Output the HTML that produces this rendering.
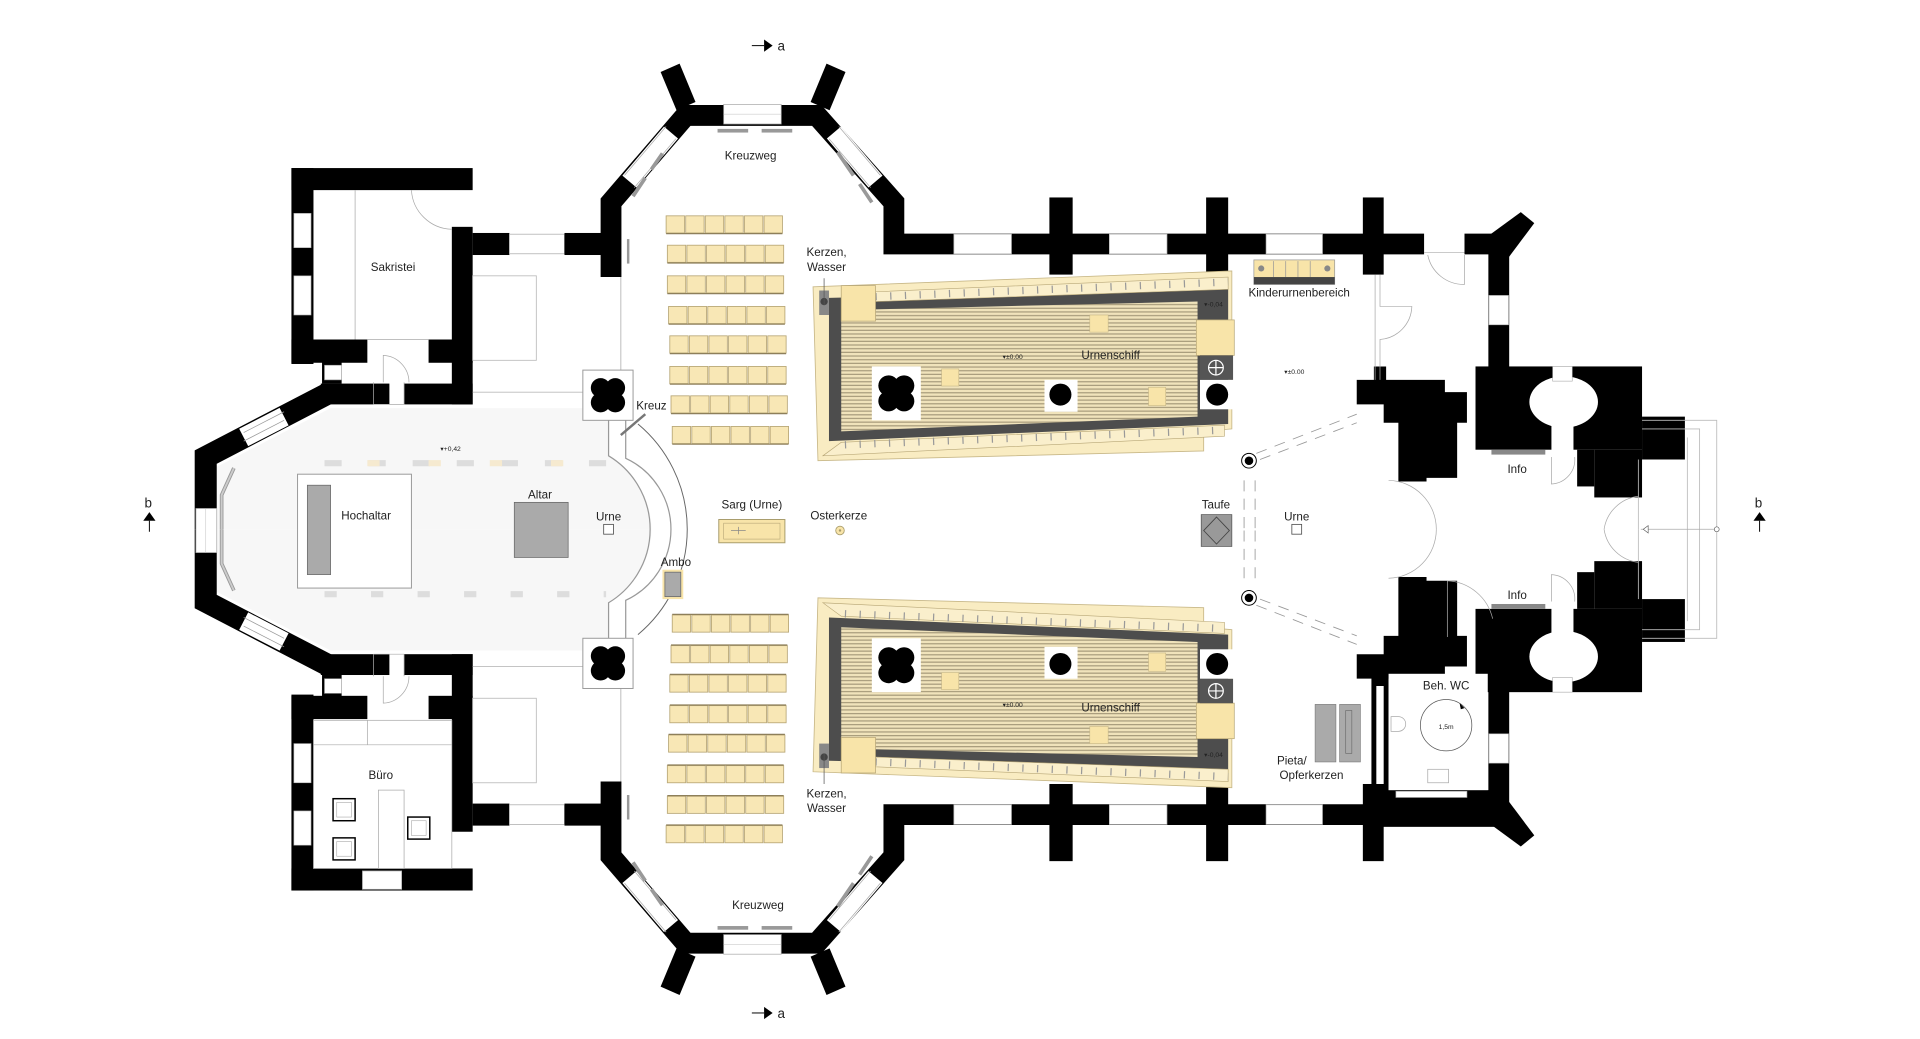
<!DOCTYPE html>
<html><head><meta charset="utf-8"><style>
html,body{margin:0;padding:0;background:#fff;}
svg{display:block}
text{font-family:"Liberation Sans",sans-serif;fill:#222;}
</style></head><body>
<svg width="1920" height="1039" viewBox="0 0 1568 848" xmlns="http://www.w3.org/2000/svg">
<defs>
<pattern id="hatch" width="6" height="3" patternUnits="userSpaceOnUse">
<rect width="6" height="3" fill="#f0e3bb"/><rect y="2" width="6" height="1" fill="#a89c7c"/>
</pattern>
<g id="seatrow">
<rect x="0" y="0" width="15" height="14" fill="#f8e7b5" stroke="#b8a777" stroke-width="0.7"/>
<rect x="16" y="0" width="15" height="14" fill="#f8e7b5" stroke="#b8a777" stroke-width="0.7"/>
<rect x="32" y="0" width="15" height="14" fill="#f8e7b5" stroke="#b8a777" stroke-width="0.7"/>
<rect x="48" y="0" width="15" height="14" fill="#f8e7b5" stroke="#b8a777" stroke-width="0.7"/>
<rect x="64" y="0" width="15" height="14" fill="#f8e7b5" stroke="#b8a777" stroke-width="0.7"/>
<rect x="80" y="0" width="15" height="14" fill="#f8e7b5" stroke="#b8a777" stroke-width="0.7"/>
<line x1="0" y1="14.5" x2="95" y2="14.5" stroke="#8d7f5a" stroke-width="1"/>
</g>
<g id="quat">
<circle cx="-6" cy="-6" r="8"/><circle cx="6" cy="-6" r="8"/><circle cx="-6" cy="6" r="8"/><circle cx="6" cy="6" r="8"/><circle r="8"/>
</g>
<g id="h">
<path d="M177,432 L177,381 L270,333 L476,333 L476,343 L497,343 L497,372 A70 70 0 0 1 532,432 Z" fill="#f7f7f7"/>
<polyline points="268,321 168,373 168,432" fill="none" stroke="#000" stroke-width="18" stroke-linejoin="miter"/>
<line x1="199" y1="357" x2="232" y2="340" stroke="#fff" stroke-width="16"/>
<line x1="199" y1="353" x2="232" y2="336" stroke="#999" stroke-width="0.6"/>
<line x1="199" y1="360" x2="232" y2="343" stroke="#999" stroke-width="0.6"/>
<polyline points="191,382 181,404 181,432" fill="none" stroke="#999" stroke-width="3"/>
<polyline points="191,382 181,404 181,432" fill="none" stroke="#ccc" stroke-width="1.5"/>
<rect x="262" y="313" width="56" height="17" fill="#000"/>
<rect x="330" y="313" width="56" height="17" fill="#000"/>
<rect x="263" y="295" width="16" height="18" fill="#000"/>
<rect x="265" y="298" width="14" height="12" fill="#fff" stroke="#999" stroke-width="0.5"/>
<path d="M305,330 L305,312 M330,312 L330,330 M305,330 L330,330" fill="none" stroke="#aaa" stroke-width="0.6"/>
<path d="M313,312 L313,290 A22 22 0 0 1 334,312" fill="none" stroke="#aaa" stroke-width="0.6"/>
<rect x="238" y="137" width="148" height="18" fill="#000"/>
<rect x="238" y="137" width="18" height="160" fill="#000"/>
<rect x="369" y="185" width="17" height="145" fill="#000"/>
<rect x="238" y="277" width="62" height="19" fill="#000"/>
<rect x="350" y="277" width="36" height="19" fill="#000"/>
<rect x="240" y="174" width="14" height="28" fill="#fff" stroke="#aaa" stroke-width="0.5"/>
<rect x="240" y="225" width="14" height="32" fill="#fff" stroke="#aaa" stroke-width="0.5"/>
<rect x="386" y="190" width="30" height="18" fill="#000"/>
<rect x="416" y="191" width="45" height="16" fill="#fff" stroke="#aaa" stroke-width="0.6"/>
<rect x="461" y="190" width="46" height="18" fill="#000"/>
<rect x="386" y="225" width="52" height="69" fill="none" stroke="#bbb" stroke-width="0.7"/>
<line x1="386" y1="320" x2="476" y2="320" stroke="#bbb" stroke-width="0.7"/>
<line x1="507" y1="226" x2="507" y2="302" stroke="#bbb" stroke-width="0.8"/>
<polyline points="499,226 499,165 560,94 667,94 730,165 730,199 1224,199" fill="none" stroke="#000" stroke-width="17" stroke-linejoin="miter"/>
<line x1="1224" y1="191" x2="1224" y2="300" stroke="#000" stroke-width="17"/>
<polygon points="539.5,58.5 555,51.7 568,83 552.5,89.8" fill="#000"/>
<polygon points="690.5,58.5 675,51.7 662,83 677.5,89.8" fill="#000"/>
<rect x="591" y="85" width="47" height="16" fill="#fff" stroke="#aaa" stroke-width="0.6"/>
<line x1="591" y1="93" x2="638" y2="93" stroke="#ccc" stroke-width="0.5"/>
<line x1="548" y1="108" x2="514" y2="148" stroke="#fff" stroke-width="15"/>
<line x1="552" y1="113" x2="518" y2="153" stroke="#aaa" stroke-width="0.6"/>
<line x1="544" y1="103" x2="510" y2="143" stroke="#aaa" stroke-width="0.6"/>
<line x1="681" y1="108" x2="715" y2="148" stroke="#fff" stroke-width="15"/>
<line x1="677" y1="113" x2="711" y2="153" stroke="#aaa" stroke-width="0.6"/>
<line x1="685" y1="103" x2="719" y2="143" stroke="#aaa" stroke-width="0.6"/>
<rect x="586" y="105" width="25" height="3" fill="#999"/>
<rect x="622" y="105" width="25" height="3" fill="#999"/>
<line x1="541" y1="125" x2="532" y2="138" stroke="#999" stroke-width="3"/>
<line x1="527" y1="145" x2="517" y2="160" stroke="#999" stroke-width="3"/>
<line x1="684" y1="124" x2="697" y2="143" stroke="#999" stroke-width="3"/>
<line x1="702" y1="150" x2="712" y2="165" stroke="#999" stroke-width="3"/>
<rect x="512" y="195" width="2" height="20" fill="#999"/>
<rect x="857" y="161" width="19" height="63" fill="#000"/>
<rect x="985" y="161" width="18" height="63" fill="#000"/>
<rect x="1113" y="161" width="17" height="63" fill="#000"/>
<rect x="779" y="191" width="47" height="16" fill="#fff" stroke="#bbb" stroke-width="0.6"/>
<rect x="906" y="191" width="47" height="16" fill="#fff" stroke="#bbb" stroke-width="0.6"/>
<rect x="1034" y="191" width="46" height="16" fill="#fff" stroke="#bbb" stroke-width="0.6"/>
<polygon points="1216,192 1242,173 1253,182 1232,210" fill="#000"/>
<rect x="1216" y="241" width="16" height="24" fill="#fff" stroke="#aaa" stroke-width="0.5"/>
<rect x="476" y="302" width="41" height="41" fill="#fff" stroke="#999" stroke-width="0.8"/>
<use href="#quat" transform="translate(496.5,322.5)"/>
<use href="#seatrow" x="544" y="176"/>
<use href="#seatrow" x="545" y="200"/>
<use href="#seatrow" x="545" y="225"/>
<use href="#seatrow" x="546" y="250"/>
<use href="#seatrow" x="547" y="274"/>
<use href="#seatrow" x="547" y="299"/>
<use href="#seatrow" x="548" y="323"/>
<use href="#seatrow" x="549" y="348"/>
<polygon points="664,234 1006,221 1006,350 983,352 983,368 668,376" fill="#f9ecc2" stroke="#c8b888" stroke-width="0.7"/>
<polygon points="677,243 1003,235 1003,346 677,360" fill="#4d4d4d"/>
<polygon points="687,253 978,246 978,340 687,352" fill="url(#hatch)"/>
<polygon points="715,238 1003,226 1003,236 715,246" fill="#faefcc" stroke="#b8a777" stroke-width="0.5"/>
<line x1="715" y1="242" x2="1003" y2="230" stroke="#999" stroke-width="6" stroke-dasharray="1 11"/>
<polygon points="687,361 1000,347 1000,356 672,372" fill="#faefcc" stroke="#b8a777" stroke-width="0.5"/>
<line x1="690" y1="363" x2="1000" y2="351" stroke="#999" stroke-width="6" stroke-dasharray="1 11"/>
<rect x="687" y="233" width="28" height="29" fill="#f8e4a9" stroke="#b8a777" stroke-width="0.6"/>
<rect x="669" y="237" width="8" height="20" fill="#888"/>
<circle cx="673" cy="246" r="3" fill="#444"/>
<rect x="977" y="261" width="31" height="29" fill="#f8e4a9" stroke="#b8a777" stroke-width="0.6"/>
<rect x="980" y="290" width="27" height="20" fill="#555"/>
<circle cx="993" cy="300" r="6" fill="none" stroke="#fff" stroke-width="1"/>
<path d="M987,300 H999 M993,294 V306" stroke="#fff" stroke-width="1"/>
<rect x="980" y="310" width="27" height="24" fill="#fff"/>
<circle cx="994" cy="322" r="9" fill="#000"/>
<rect x="712" y="299" width="40" height="44" fill="#fff"/>
<use href="#quat" transform="translate(732,321) scale(1.05)"/>
<rect x="853" y="310" width="27" height="26" fill="#fff"/>
<circle cx="866" cy="322" r="9" fill="#000"/>
<rect x="890" y="257" width="15" height="14" fill="#f8e4a9" stroke="#c8b888" stroke-width="0.5"/>
<rect x="769" y="301" width="14" height="14" fill="#f8e4a9" stroke="#c8b888" stroke-width="0.5"/>
<rect x="938" y="316" width="14" height="15" fill="#f8e4a9" stroke="#c8b888" stroke-width="0.5"/>
<circle cx="1020" cy="376" r="6" fill="#fff" stroke="#000" stroke-width="0.8"/>
<circle cx="1020" cy="376" r="3.5" fill="#000"/>
<line x1="1026" y1="370" x2="1108" y2="338" stroke="#999" stroke-width="0.7" stroke-dasharray="9 7"/>
<line x1="1029" y1="375" x2="1108" y2="345" stroke="#999" stroke-width="0.7" stroke-dasharray="9 7"/>
<line x1="1016" y1="392" x2="1016" y2="432" stroke="#999" stroke-width="0.7" stroke-dasharray="9 6"/>
<line x1="1025" y1="392" x2="1025" y2="432" stroke="#999" stroke-width="0.7" stroke-dasharray="9 6"/>
<polygon points="1108,310 1122,310 1122,299 1132,299 1132,310 1180,310 1180,320 1198,320 1198,345 1190,345 1190,390 1165,390 1165,393 1142,393 1142,345 1130,345 1130,330 1108,330" fill="#000"/>
<rect x="1205" y="299" width="136" height="68" fill="#000"/>
<rect x="1302" y="367" width="39" height="39" fill="#000"/>
<rect x="1288" y="367" width="14" height="30" fill="#000"/>
<rect x="1341" y="340" width="35" height="35" fill="#000"/>
<ellipse cx="1277" cy="328" rx="28" ry="21" fill="#fff"/>
<rect x="1268" y="299" width="16" height="12" fill="#fff" stroke="#aaa" stroke-width="0.5"/>
<rect x="1267" y="345" width="18" height="28" fill="#fff"/>
<rect x="1218" y="367" width="44" height="4" fill="#888"/>
<path d="M1267,373 L1267,395 A20 20 0 0 0 1286,373" fill="none" stroke="#aaa" stroke-width="0.6"/>
<path d="M1134,392 A40 40 0 0 1 1173,432" fill="none" stroke="#aaa" stroke-width="0.6"/>
<path d="M1338,405 A32 32 0 0 0 1310,432" fill="none" stroke="#aaa" stroke-width="0.6"/>
<polyline points="1341,343 1402,343 1402,432" fill="none" stroke="#bbb" stroke-width="0.7"/>
<polyline points="1341,350 1388,350 1388,432" fill="none" stroke="#bbb" stroke-width="0.7"/>
<polyline points="1378,357 1378,432" fill="none" stroke="#bbb" stroke-width="0.7"/>
<line x1="1338" y1="375" x2="1338" y2="432" stroke="#bbb" stroke-width="0.7"/>
</g>
</defs>

<use href="#h"/>
<use href="#h" transform="matrix(1 0 0 -1 0 864)"/>

<line x1="290" y1="155" x2="290" y2="277" stroke="#aaa" stroke-width="0.6"/>
<line x1="300" y1="277" x2="350" y2="277" stroke="#aaa" stroke-width="0.6"/>
<path d="M336,155 A34 34 0 0 0 369,187" fill="none" stroke="#aaa" stroke-width="0.6"/>
<rect x="256" y="588" width="113" height="121" fill="none" stroke="#aaa" stroke-width="0.6"/>
<line x1="256" y1="608" x2="369" y2="608" stroke="#aaa" stroke-width="0.6"/>
<line x1="300" y1="588" x2="300" y2="608" stroke="#aaa" stroke-width="0.6"/>
<rect x="309" y="645" width="21" height="64" fill="#fff" stroke="#aaa" stroke-width="0.6"/>
<rect x="272" y="652" width="18" height="18" fill="#fff" stroke="#000" stroke-width="1.2"/>
<rect x="275" y="655" width="12" height="12" fill="none" stroke="#aaa" stroke-width="0.5"/>
<rect x="272" y="684" width="18" height="18" fill="#fff" stroke="#000" stroke-width="1.2"/>
<rect x="275" y="687" width="12" height="12" fill="none" stroke="#aaa" stroke-width="0.5"/>
<rect x="333" y="667" width="18" height="18" fill="#fff" stroke="#000" stroke-width="1.2"/>
<rect x="336" y="670" width="12" height="12" fill="none" stroke="#aaa" stroke-width="0.5"/>
<rect x="296" y="711" width="32" height="15" fill="#fff" stroke="#aaa" stroke-width="0.6"/>

<rect x="160" y="415" width="17" height="36" fill="#fff" stroke="#aaa" stroke-width="0.6"/>
<line x1="168" y1="415" x2="168" y2="451" stroke="#ccc" stroke-width="0.5"/>
<rect x="1163" y="190" width="33" height="18" fill="#fff"/>
<line x1="1163" y1="206" x2="1196" y2="206" stroke="#aaa" stroke-width="0.6"/>
<path d="M1196,208 L1196,232 A30 30 0 0 1 1166,208" fill="none" stroke="#aaa" stroke-width="0.6"/>
<path d="M1123,224 V310 M1127,224 V250 H1153 A28 28 0 0 1 1127,277 V310" fill="none" stroke="#aaa" stroke-width="0.6"/>
<rect x="1120" y="548" width="14" height="125" fill="#000"/>
<rect x="1120" y="645" width="112" height="30" fill="#000"/>
<rect x="1134" y="550" width="81" height="95" fill="#fff"/>
<rect x="1140" y="646" width="58" height="5" fill="#fff" stroke="#aaa" stroke-width="0.5"/>
<line x1="1127" y1="560" x2="1127" y2="640" stroke="#fff" stroke-width="6"/>
<path d="M1136,585 h6 a5 5 0 0 1 0 12 h-6 z" fill="#fff" stroke="#aaa" stroke-width="0.6"/>
<rect x="1166" y="628" width="17" height="11" fill="#fff" stroke="#aaa" stroke-width="0.6"/>
<circle cx="1181" cy="592" r="21" fill="none" stroke="#555" stroke-width="0.6"/>
<polygon points="1192,574 1196,578 1193,579" fill="#000"/>
<path d="M1182,520 L1182,474 A40 40 0 0 1 1219,505" fill="none" stroke="#aaa" stroke-width="0.6"/>

<line x1="265" y1="378" x2="495" y2="378" stroke="#ddd" stroke-width="5" stroke-dasharray="14 22"/>
<line x1="265" y1="485" x2="495" y2="485" stroke="#ddd" stroke-width="5" stroke-dasharray="10 28"/>
<line x1="300" y1="378" x2="480" y2="378" stroke="#f6ead0" stroke-width="5" stroke-dasharray="10 40"/>
<path d="M497,343 L497,372 A70 70 0 0 1 497,492 L497,521" fill="none" stroke="#999" stroke-width="1"/>
<path d="M511,343 L511,374 A64 64 0 0 1 511,490 L511,521" fill="none" stroke="#999" stroke-width="1"/>
<path d="M521,346 A112 112 0 0 1 521,518" fill="none" stroke="#666" stroke-width="0.8"/>
<line x1="507" y1="355" x2="527" y2="338" stroke="#777" stroke-width="2"/>
<rect x="243" y="387" width="93" height="93" fill="#fff" stroke="#999" stroke-width="0.8"/>
<rect x="251" y="396" width="19" height="73" fill="#aaa" stroke="#666" stroke-width="0.6"/>
<rect x="420" y="410" width="44" height="45" fill="#aaa" stroke="#666" stroke-width="0.6"/>
<rect x="493" y="428" width="8" height="8" fill="#fff" stroke="#555" stroke-width="0.7"/>
<rect x="587" y="424" width="54" height="19" fill="#f8e4a9" stroke="#a89c6c" stroke-width="0.8"/>
<rect x="591" y="427" width="46" height="13" fill="none" stroke="#b8a777" stroke-width="0.5"/>
<path d="M597,433 H609 M603,430 V436" stroke="#888" stroke-width="0.6"/>
<circle cx="686" cy="433" r="3.5" fill="#f8e4a9" stroke="#a89c6c" stroke-width="0.7"/>
<circle cx="686" cy="433" r="1" fill="#a89c6c"/>
<rect x="541" y="465" width="17" height="24" fill="#f8e4a9"/>
<rect x="543" y="467" width="13" height="20" fill="#aaa" stroke="#666" stroke-width="0.6"/>
<rect x="981" y="420" width="25" height="26" fill="#999" stroke="#555" stroke-width="0.6"/>
<polygon points="993.5,422 1004,433 993.5,444 983,433" fill="none" stroke="#444" stroke-width="0.7"/>
<rect x="1055" y="428" width="8" height="8" fill="#fff" stroke="#555" stroke-width="0.7"/>
<rect x="1074" y="575" width="17" height="47" fill="#aaa" stroke="#777" stroke-width="0.5"/>
<rect x="1094" y="575" width="17" height="47" fill="#aaa" stroke="#777" stroke-width="0.5"/>
<rect x="1099" y="580" width="5" height="35" fill="none" stroke="#666" stroke-width="0.5"/>
<rect x="1024" y="212" width="66" height="20" fill="#f8e4a9" stroke="#999" stroke-width="0.6"/>
<rect x="1024" y="226" width="66" height="6" fill="#444"/>
<circle cx="1030" cy="219" r="2.5" fill="#888"/><circle cx="1084" cy="219" r="2.5" fill="#888"/>
<path d="M1040,213 V226 M1050,213 V226 M1060,213 V226 M1070,213 V226" stroke="#999" stroke-width="0.6"/>
<line x1="673" y1="249" x2="673" y2="227" stroke="#555" stroke-width="0.6"/>
<line x1="673" y1="615" x2="673" y2="640" stroke="#555" stroke-width="0.6"/>
<line x1="1340" y1="432" x2="1402" y2="432" stroke="#aaa" stroke-width="0.6"/>
<polygon points="1342,432 1346,429 1346,435" fill="#fff" stroke="#555" stroke-width="0.5"/>
<circle cx="1402" cy="432" r="2" fill="#fff" stroke="#555" stroke-width="0.5"/>

<line x1="614" y1="37" x2="624" y2="37" stroke="#000" stroke-width="0.8"/><polygon points="624,32 631,37 624,42" fill="#000"/>
<text x="635" y="41" font-size="11">a</text>
<line x1="614" y1="827" x2="624" y2="827" stroke="#000" stroke-width="0.8"/><polygon points="624,822 631,827 624,832" fill="#000"/>
<text x="635" y="831" font-size="11">a</text>
<text x="118" y="414" font-size="11">b</text><polygon points="122,418 117,425 127,425" fill="#000"/><line x1="122" y1="425" x2="122" y2="434" stroke="#000" stroke-width="0.8"/>
<text x="1433" y="414" font-size="11">b</text><polygon points="1437,418 1432,425 1442,425" fill="#000"/><line x1="1437" y1="425" x2="1437" y2="434" stroke="#000" stroke-width="0.8"/>

<g font-size="9.5" text-anchor="middle">
<text x="613" y="130">Kreuzweg</text>
<text x="619" y="742">Kreuzweg</text>
<text x="321" y="221">Sakristei</text>
<text x="311" y="636">Büro</text>
<text x="675" y="209">Kerzen,</text><text x="675" y="221">Wasser</text>
<text x="675" y="651">Kerzen,</text><text x="675" y="663">Wasser</text>
<text x="907" y="293">Urnenschiff</text>
<text x="907" y="581">Urnenschiff</text>
<text x="1061" y="242">Kinderurnenbereich</text>
<text x="532" y="334">Kreuz</text>
<text x="299" y="424">Hochaltar</text>
<text x="441" y="407">Altar</text>
<text x="497" y="425">Urne</text>
<text x="1059" y="425">Urne</text>
<text x="614" y="415">Sarg (Urne)</text>
<text x="685" y="424">Osterkerze</text>
<text x="552" y="462">Ambo</text>
<text x="993" y="415">Taufe</text>
<text x="1239" y="386">Info</text>
<text x="1239" y="489">Info</text>
<text x="1181" y="563">Beh. WC</text>
<text x="1055" y="624">Pieta/</text>
<text x="1071" y="636">Opferkerzen</text>
</g>
<g font-size="5.5" text-anchor="middle">
<text x="368" y="368">▾+0,42</text>
<text x="827" y="293">▾±0.00</text>
<text x="827" y="577">▾±0.00</text>
<text x="1057" y="305">▾±0.00</text>
<text x="991" y="250">▾-0,04</text>
<text x="991" y="618">▾-0,04</text>
<text x="1181" y="595">1,5m</text>
</g>
</svg>
</body></html>
